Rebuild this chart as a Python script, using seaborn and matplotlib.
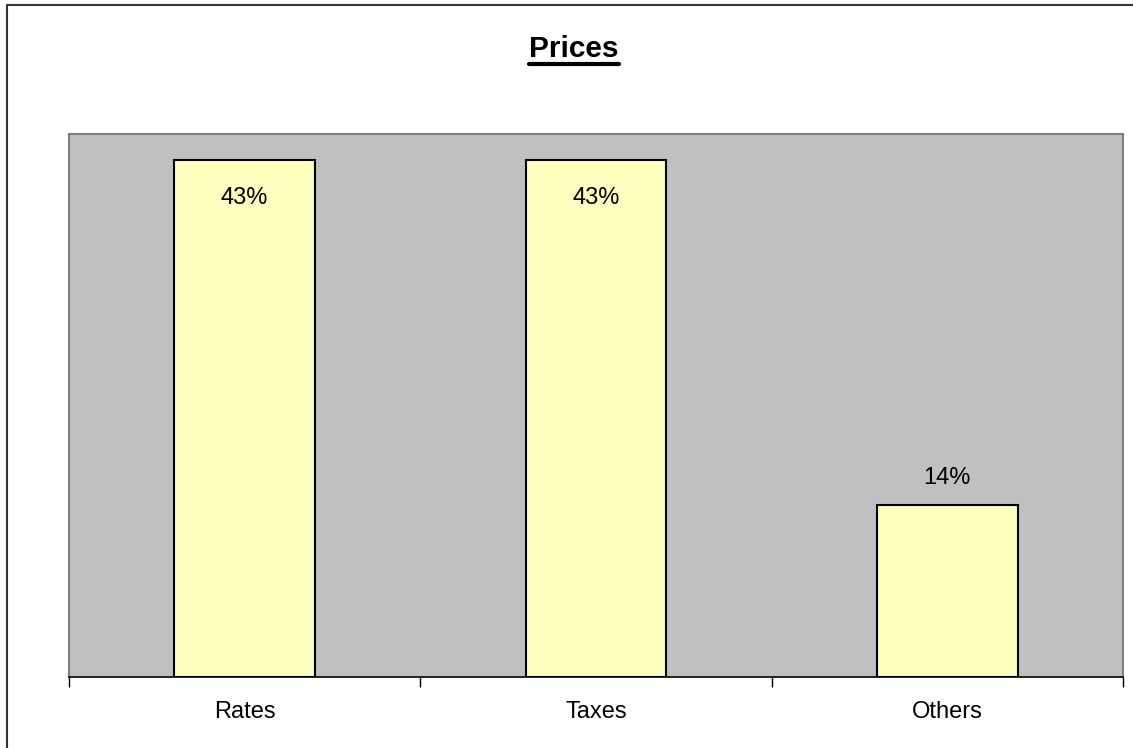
import matplotlib
matplotlib.use("Agg")
import matplotlib.pyplot as plt
import seaborn as sns
import pandas as pd
from matplotlib.lines import Line2D

# chart data
categories = ["Rates", "Taxes", "Others"]
shares = [42.86, 42.86, 14.29]   # percent
title = "Prices"

df = pd.DataFrame({"category": categories, "share": shares})

sns.set_style("white")
plt.rcParams["font.family"] = ["Liberation Sans", "DejaVu Sans"]
plt.rcParams["text.color"] = "black"
plt.rcParams["xtick.color"] = "black"
plt.rcParams["xtick.labelcolor"] = "black"

fig = plt.figure(figsize=(11.33, 7.48), dpi=100)
ax = fig.add_axes([69 / 1133, 71 / 748, 1054 / 1133, 543 / 748])
ax.set_facecolor("#C0C0C0")

sns.barplot(data=df, x="category", y="share", color="#FFFFC0", saturation=1,
            edgecolor="black", linewidth=1.5, width=0.4, ax=ax)

ax.set_ylim(0, 45)
ax.set_xlim(-0.5, len(categories) - 0.5)
ax.set_xlabel("")
ax.set_ylabel("")
ax.set_yticks([])

# category labels at centres, tick marks at category boundaries
ax.set_xticks(range(len(categories)))
ax.set_xticklabels(categories, fontsize=17, color="black")
ax.tick_params(axis="x", which="major", length=0, pad=17.5)
ax.set_xticks([i - 0.5 for i in range(len(categories) + 1)], minor=True)
ax.tick_params(axis="x", which="minor", length=7, width=1, color="black", bottom=True)

for side in ["left", "top", "right"]:
    ax.spines[side].set_color("#808080")
    ax.spines[side].set_linewidth(1.5)
ax.spines["bottom"].set_color("black")
ax.spines["bottom"].set_linewidth(1.2)

# value labels
for i, v in enumerate(shares):
    off = -38 if v > 30 else 27
    ax.annotate(f"{v:.0f}%", (i, v), xytext=(0, off), textcoords="offset pixels",
                ha="center", va="center", fontsize=17, color="black")

# title with underline
t = fig.text(574 / 1133, (748 - 57) / 748, title, ha="center", va="baseline",
             fontsize=21.5, fontweight="bold", color="black")
fig.canvas.draw()
bb = t.get_window_extent().transformed(fig.transFigure.inverted())
uy = (748 - 64) / 748
fig.add_artist(Line2D([bb.x0, bb.x1], [uy, uy], transform=fig.transFigure,
                      color="black", linewidth=3))

# chart-area border (top and left edges visible in the crop)
fig.add_artist(Line2D([7 / 1133, 1], [1 - 5 / 748, 1 - 5 / 748], transform=fig.transFigure,
                      color="#333333", linewidth=1.5))
fig.add_artist(Line2D([7 / 1133, 7 / 1133], [0, 1 - 5 / 748], transform=fig.transFigure,
                      color="#333333", linewidth=1.5))

fig.savefig("out.png", dpi=100)
